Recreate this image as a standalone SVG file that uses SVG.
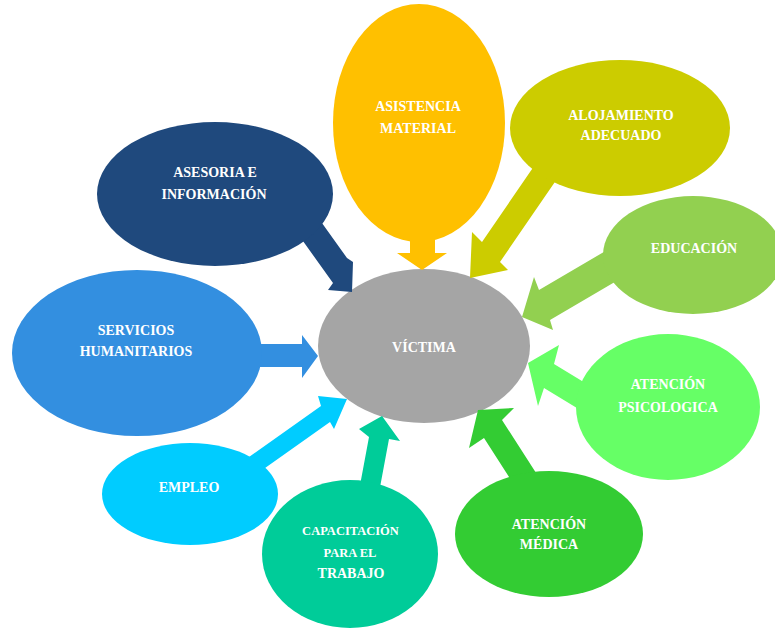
<svg xmlns="http://www.w3.org/2000/svg" width="775" height="629" viewBox="0 0 775 629">
<style>
text{font-family:"Liberation Serif","Times New Roman",serif;font-weight:bold;font-size:14px;fill:#FFFFFF;text-anchor:middle}
.sm{font-size:12.5px}
</style>
<rect width="775" height="629" fill="#FFFFFF"/>
<g id="victima">
<ellipse cx="424" cy="346" rx="106" ry="77" fill="#A5A5A5"/>
<text x="424" y="352">VÍCTIMA</text>
</g>
<g id="connectors">
<polygon fill="#FFC000" points="410,200 410,253 397,253 422,270 447,253 435,253 435,200"/>
<polygon fill="#CCCC00" points="538.6,159.5 482,242 472,232 470,278 508,270 500,262 556.6,179.5"/>
<polygon fill="#1F497D" points="306.4,201.3 347,258 353,262 352,292 328,290 333,283 292.4,226.3"/>
<polygon fill="#92D050" points="612.3,247 539,290 534,277 522,317 553,330 550,320 623.3,277"/>
<polygon fill="#66FF66" points="605,395 554,364 559,345 528,363 538,406 544,388 595,419"/>
<polygon fill="#33CC33" points="524.5,501 484,438 469,448 478,410 514,408 502,420 542.5,483"/>
<polygon fill="#00CC99" points="358,496 369,437 359,429 382,416 400,441 389,439 378,498"/>
<polygon fill="#00CCFF" points="247.6,458 321,406 318,396 347,399 334,429 330,422 256.6,474"/>
<polygon fill="#338FE0" points="240,344 302,344 302,335 318,356 302,378 302,367 240,367"/>
</g>
<g id="asistencia">
<ellipse cx="419" cy="123" rx="86" ry="119" fill="#FFC000"/>
<text x="418" y="111">ASISTENCIA</text>
<text x="418" y="133">MATERIAL</text>
</g>
<g id="alojamiento">
<ellipse cx="620" cy="128" rx="110" ry="68" fill="#CCCC00"/>
<text x="621" y="120">ALOJAMIENTO</text>
<text x="621" y="140">ADECUADO</text>
</g>
<g id="asesoria">
<ellipse cx="215" cy="194" rx="118" ry="72" fill="#1F497D"/>
<text x="215" y="177">ASESORIA E</text>
<text x="214" y="199">INFORMACIÓN</text>
</g>
<g id="educacion">
<ellipse cx="693" cy="255" rx="90" ry="59" fill="#92D050"/>
<text x="694" y="253">EDUCACIÓN</text>
</g>
<g id="psicologica">
<ellipse cx="668" cy="407" rx="92" ry="73" fill="#66FF66"/>
<text x="668" y="389">ATENCIÓN</text>
<text x="668" y="412">PSICOLOGICA</text>
</g>
<g id="medica">
<ellipse cx="549" cy="534" rx="94" ry="63" fill="#33CC33"/>
<text x="549" y="529">ATENCIÓN</text>
<text x="549" y="549">MÉDICA</text>
</g>
<g id="capacitacion">
<ellipse cx="350" cy="554" rx="88" ry="74" fill="#00CC99"/>
<text class="sm" x="350.5" y="535">CAPACITACIÓN</text>
<text class="sm" x="350" y="557">PARA EL</text>
<text x="351" y="578">TRABAJO</text>
</g>
<g id="empleo">
<ellipse cx="190" cy="494" rx="88" ry="51" fill="#00CCFF"/>
<text x="189" y="492">EMPLEO</text>
</g>
<g id="servicios">
<ellipse cx="137" cy="353" rx="125" ry="83" fill="#338FE0"/>
<text x="136" y="335">SERVICIOS</text>
<text x="136" y="356">HUMANITARIOS</text>
</g>
</svg>
